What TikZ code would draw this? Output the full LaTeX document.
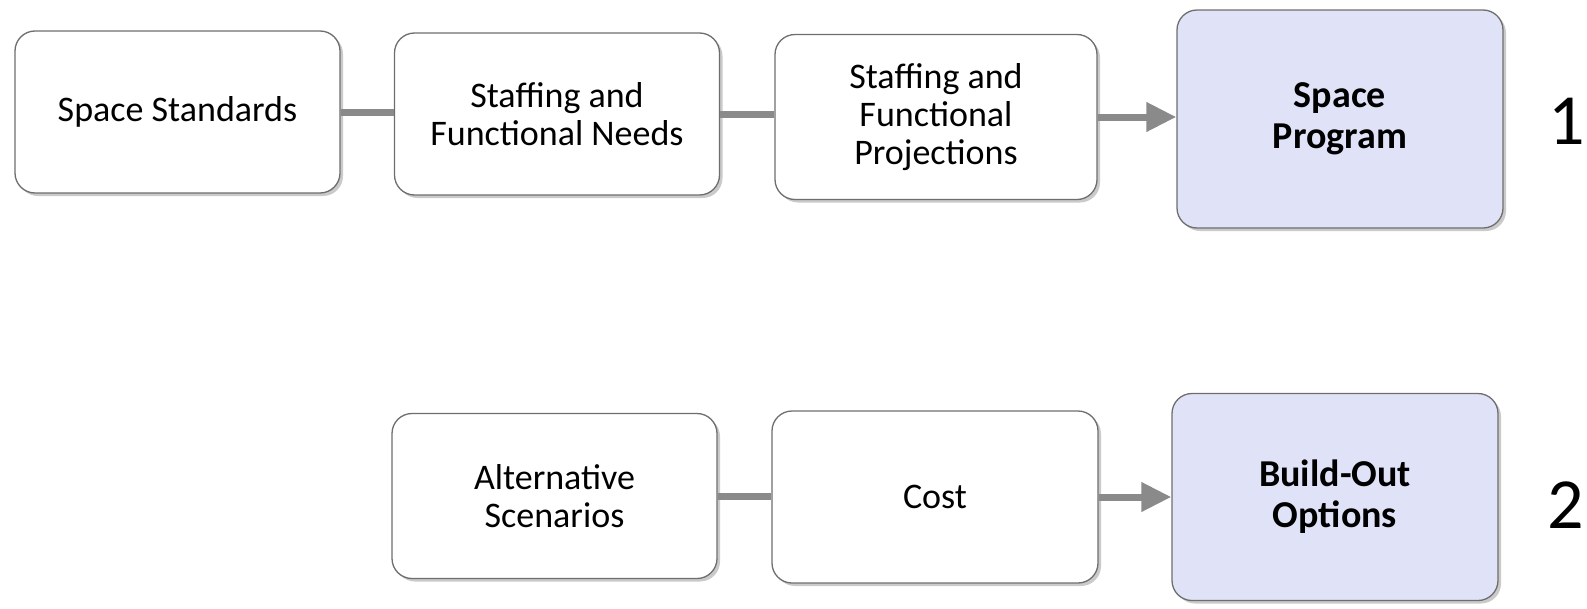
\documentclass[tikz,border=0pt]{standalone}
\usepackage{fontspec}
\setmainfont{Carlito}
\usetikzlibrary{shadows,arrows.meta}
\definecolor{boxline}{RGB}{110,110,110}
\definecolor{progfill}{RGB}{224,227,247}
\definecolor{conn}{RGB}{138,138,138}
\tikzset{
  stepbox/.style={draw=boxline, line width=1.3pt, fill=white, rounded corners=20pt,
    align=center, inner sep=0pt, font=\fontsize{36}{38}\selectfont,
    drop shadow={shadow xshift=3pt, shadow yshift=-3pt, opacity=0.35, fill=black!60}},
  resultbox/.style={stepbox, fill=progfill, font=\fontsize{38}{41}\selectfont\bfseries},
  link/.style={draw=conn, line width=7pt},
  linkarrow/.style={link, -{Triangle[length=30pt,width=28pt]}},
  rownum/.style={font=\fontsize{72}{72}\selectfont, inner sep=0pt}
}
\begin{document}
\begin{tikzpicture}[x=1pt,y=-1pt]
\useasboundingbox (0,0) rectangle (1587,608);
\node[stepbox, minimum width=325pt, minimum height=162pt] (a1) at (177.5,112) {Space Standards};
\node[stepbox, minimum width=325pt, minimum height=162pt] (a2) at (557,114) {Staffing and\\Functional Needs};
\node[stepbox, minimum width=322pt, minimum height=165pt] (a3) at (936,117) {Staffing and\\Functional\\Projections};
\node[resultbox, minimum width=326pt, minimum height=218pt] (a4) at (1340,119) {Space\\Program};
\node[rownum] (n1) at (1567,121) {1};

\node[stepbox, minimum width=325pt, minimum height=165pt] (b1) at (554.5,496) {Alternative\\Scenarios};
\node[stepbox, minimum width=326pt, minimum height=172pt] (b2) at (935,497) {Cost};
\node[resultbox, minimum width=326pt, minimum height=207pt] (b3) at (1335,497) {Build-Out\\Options};
\node[rownum] (n2) at (1566,505) {2};

\draw[link] (a1.east) -- (a1.east -| a2.west);
\draw[link] (a2.east) -- (a2.east -| a3.west);
\draw[linkarrow] (a3.east) -- (a3.east -| a4.west);
\draw[link] (b1.east) -- (b1.east -| b2.west);
\draw[linkarrow] (b2.east) -- (b2.east -| b3.west);
\end{tikzpicture}
\end{document}
